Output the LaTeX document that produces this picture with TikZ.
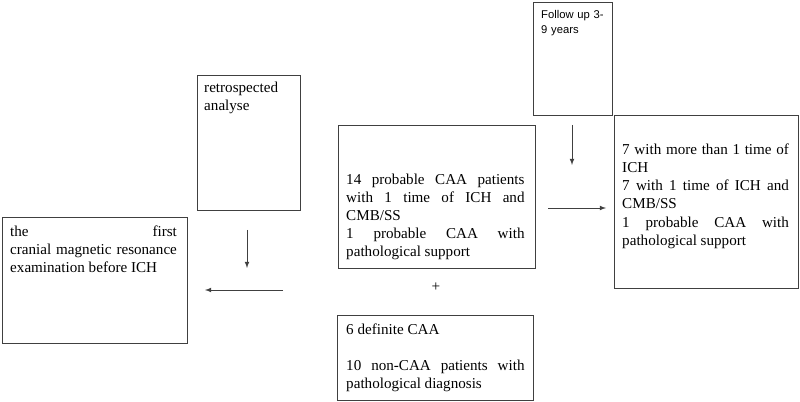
\documentclass[tikz,border=0pt]{standalone}
\usepackage{fontspec}
\setmainfont{Liberation Serif}
\newfontfamily\sansf{Liberation Sans}
\usetikzlibrary{positioning}

\tikzset{
  box/.style={draw=black!75, line width=0.8pt, rectangle, anchor=north west, inner sep=0pt},
  txt/.style={anchor=north west, inner sep=0pt, align=justify, font=\fontsize{12.9}{15.4}\selectfont,
    execute at begin node={\hyphenpenalty=10000\exhyphenpenalty=10000\tolerance=10000}},
  arr/.style={draw=black!75, line width=0.8pt, -latex},
}

\begin{document}
\begin{tikzpicture}[x=0.03cm, y=-0.03cm]
\useasboundingbox (0,0) rectangle (800,402);

% boxes
\node[box, minimum width=5.55cm, minimum height=3.78cm] (mri) at (2,217) {};
\node[box, minimum width=3.09cm, minimum height=4.05cm] (retro) at (197,75) {};
\node[box, minimum width=5.91cm, minimum height=4.29cm] (mid) at (338,125) {};
\node[box, minimum width=5.88cm, minimum height=2.55cm] (path) at (337,315) {};
\node[box, minimum width=2.37cm, minimum height=3.39cm] (follow) at (533,2) {};
\node[box, minimum width=5.52cm, minimum height=5.19cm] (res) at (614,115) {};

% texts
\node[txt, text width=5.0cm] (mritxt) at ([shift={(8,9)}]mri.north west)
  {the first cranial magnetic resonance examination before ICH};
\node[txt, text width=2.7cm, align=left] (retrotxt) at ([shift={(7,7)}]retro.north west)
  {retrospected\\analyse};
\node[txt, text width=5.35cm] (midtxt) at ([shift={(8,49)}]mid.north west)
  {14 probable CAA patients with 1 time of ICH and CMB/SS\par
   1 probable CAA with pathological support};
\node[txt, text width=5.35cm] (pathtxt) at ([shift={(9,9)}]path.north west)
  {6 definite CAA\par\vspace{15.4pt}
   10 non-CAA patients with pathological diagnosis};
\node[txt, text width=2.0cm, align=left, font=\sansf\fontsize{9.6}{13}\selectfont] (followtxt)
  at ([shift={(8,8)}]follow.north west) {Follow up 3-\\9 years};
\node[txt, text width=5.0cm] (restxt) at ([shift={(8,29)}]res.north west)
  {7 with more than 1 time of ICH\par
   7 with 1 time of ICH and CMB/SS\par
   1 probable CAA with pathological support};
\node[font=\fontsize{13}{15}\selectfont] (plus) at (436,287) {+};

% arrows
\coordinate (d1s) at (247,230); \coordinate (d1e) at (247,268);
\coordinate (l1s) at (283,290); \coordinate (l1e) at (205,290);
\coordinate (d2s) at (572,125); \coordinate (d2e) at (572,165);
\coordinate (r1s) at (548,208); \coordinate (r1e) at (606,208);
\draw[arr] (d1s) -- (d1e);
\draw[arr] (l1s) -- (l1e);
\draw[arr] (d2s) -- (d2e);
\draw[arr] (r1s) -- (r1e);
\end{tikzpicture}
\end{document}
